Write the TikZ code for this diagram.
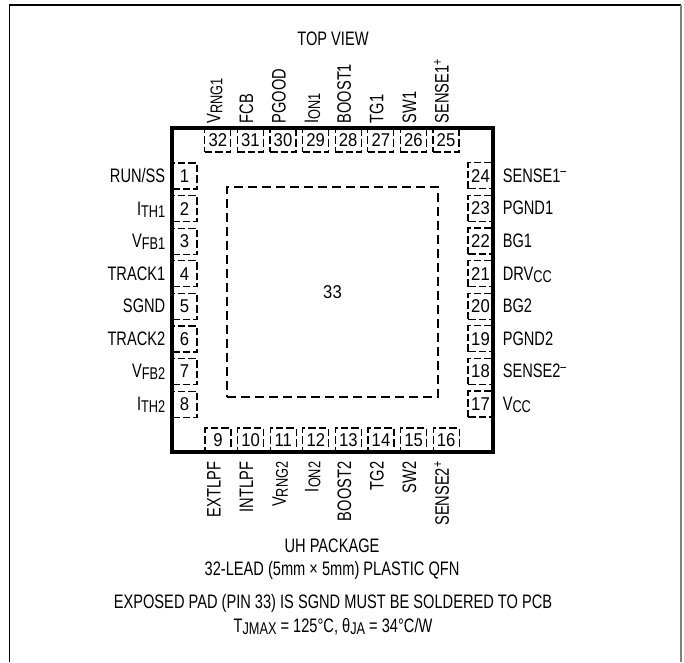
\documentclass[tikz,border=0pt]{standalone}
\usepackage{fontspec}
\setmainfont{Liberation Sans}[FakeStretch=0.75]
\newfontfamily\pinfont{Liberation Sans}[FakeStretch=0.9]
\usepackage{tikz}
\usetikzlibrary{positioning}
\def\PinPitch{32.6}
\def\PkgSize{321}
\newcommand{\lsub}[1]{\raisebox{-2pt}{\fontsize{17}{17}\selectfont #1}}
\newcommand{\lsup}[1]{\raisebox{6.5pt}{\fontsize{14}{14}\selectfont #1}}
\tikzset{
	pinlabel/.style={inner sep=0pt,font=\fontsize{19.5}{22}\selectfont},
	pinbox/.style={draw,line width=1.1pt,dash pattern=on 7.5pt off 3pt,inner sep=0pt,
		font=\pinfont\fontsize{18.5}{20}\selectfont},
	sidepin/.style={pinbox,minimum width=25pt,minimum height=26pt},
	rowpin/.style={pinbox,minimum width=26pt,minimum height=24pt},
	note/.style={inner sep=0pt,anchor=base,font=\fontsize{19.5}{22}\selectfont},
}
\begin{document}
\begin{tikzpicture}[x=1pt,y=-1pt]
	\useasboundingbox (0,0) rectangle (684,662);
	% frame
	\draw[line width=1.5pt] (9.5,662) -- (9.5,5) -- (681,5);
	\draw[gray,line width=1.8pt] (681,5) -- (681,662);
	%
	\node[note] (topview) at (333,45) {TOP VIEW};
	% left row
	\foreach \n/\lab [evaluate=\n as \y using {176+(\n-1)*\PinPitch}] in
		{1/{RUN/SS},2/{I\lsub{TH1}},3/{V\lsub{FB1}},4/TRACK1,5/SGND,6/TRACK2,7/{V\lsub{FB2}},8/{I\lsub{TH2}}}{
		\node[sidepin] (p\n) at (184.5,\y) {\n};
		\node[pinlabel,base left=6pt of p\n.base west] (l\n) {\lab};
	}
	% bottom row
	\foreach \n/\lab [evaluate=\n as \x using {218+(\n-9)*\PinPitch}] in
		{9/EXTLPF,10/INTLPF,11/{V\lsub{RNG2}},12/{I\lsub{ON2}},13/BOOST2,14/TG2,15/SW2,16/{SENSE2\lsup{+}}}{
		\node[rowpin] (p\n) at (\x,440) {\n};
		\node[pinlabel,rotate=90,anchor=mid east] (l\n) at ([yshift=-9pt]p\n.south) {\lab};
	}
	% right row
	\foreach \n/\lab [evaluate=\n as \y using {404-(\n-17)*\PinPitch}] in
		{17/{V\lsub{CC}},18/{SENSE2\lsup{--}},19/PGND2,20/BG2,21/{DRV\lsub{CC}},22/BG1,23/PGND1,24/{SENSE1\lsup{--}}}{
		\node[sidepin] (p\n) at (480.5,\y) {\n};
		\node[pinlabel,base right=9pt of p\n.base east] (l\n) {\lab};
	}
	% top row
	\foreach \n/\lab [evaluate=\n as \x using {446-(\n-25)*\PinPitch}] in
		{25/{SENSE1\lsup{+}},26/SW1,27/TG1,28/BOOST1,29/{I\lsub{ON1}},30/PGOOD,31/FCB,32/{V\lsub{RNG1}}}{
		\node[rowpin] (p\n) at (\x,140) {\n};
		\node[pinlabel,rotate=90,anchor=mid west] (l\n) at ([yshift=4pt]p\n.north) {\lab};
	}
	% package and exposed pad
	\node[draw,line width=4pt,minimum width=\PkgSize pt,minimum height=324pt] (pkg) at (332.5,290) {};
	\node[draw,line width=1.3pt,dash pattern=on 9pt off 5pt,minimum width=211pt,minimum height=210pt,
		font=\pinfont\fontsize{18.5}{20}\selectfont] (pad) at (332.5,292) {33};
	% notes
	\node[note] (pkgname) at (332,552) {UH PACKAGE};
	\node[note] (pkglead) at (332,575) {32-LEAD (5mm × 5mm) PLASTIC QFN};
	\node[note] (padnote) at (333,608) {EXPOSED PAD (PIN 33) IS SGND MUST BE SOLDERED TO PCB};
	\node[note] (thermal) at (333,632) {T\lsub{JMAX} = 125°C, θ\lsub{JA} = 34°C/W};
\end{tikzpicture}
\end{document}
